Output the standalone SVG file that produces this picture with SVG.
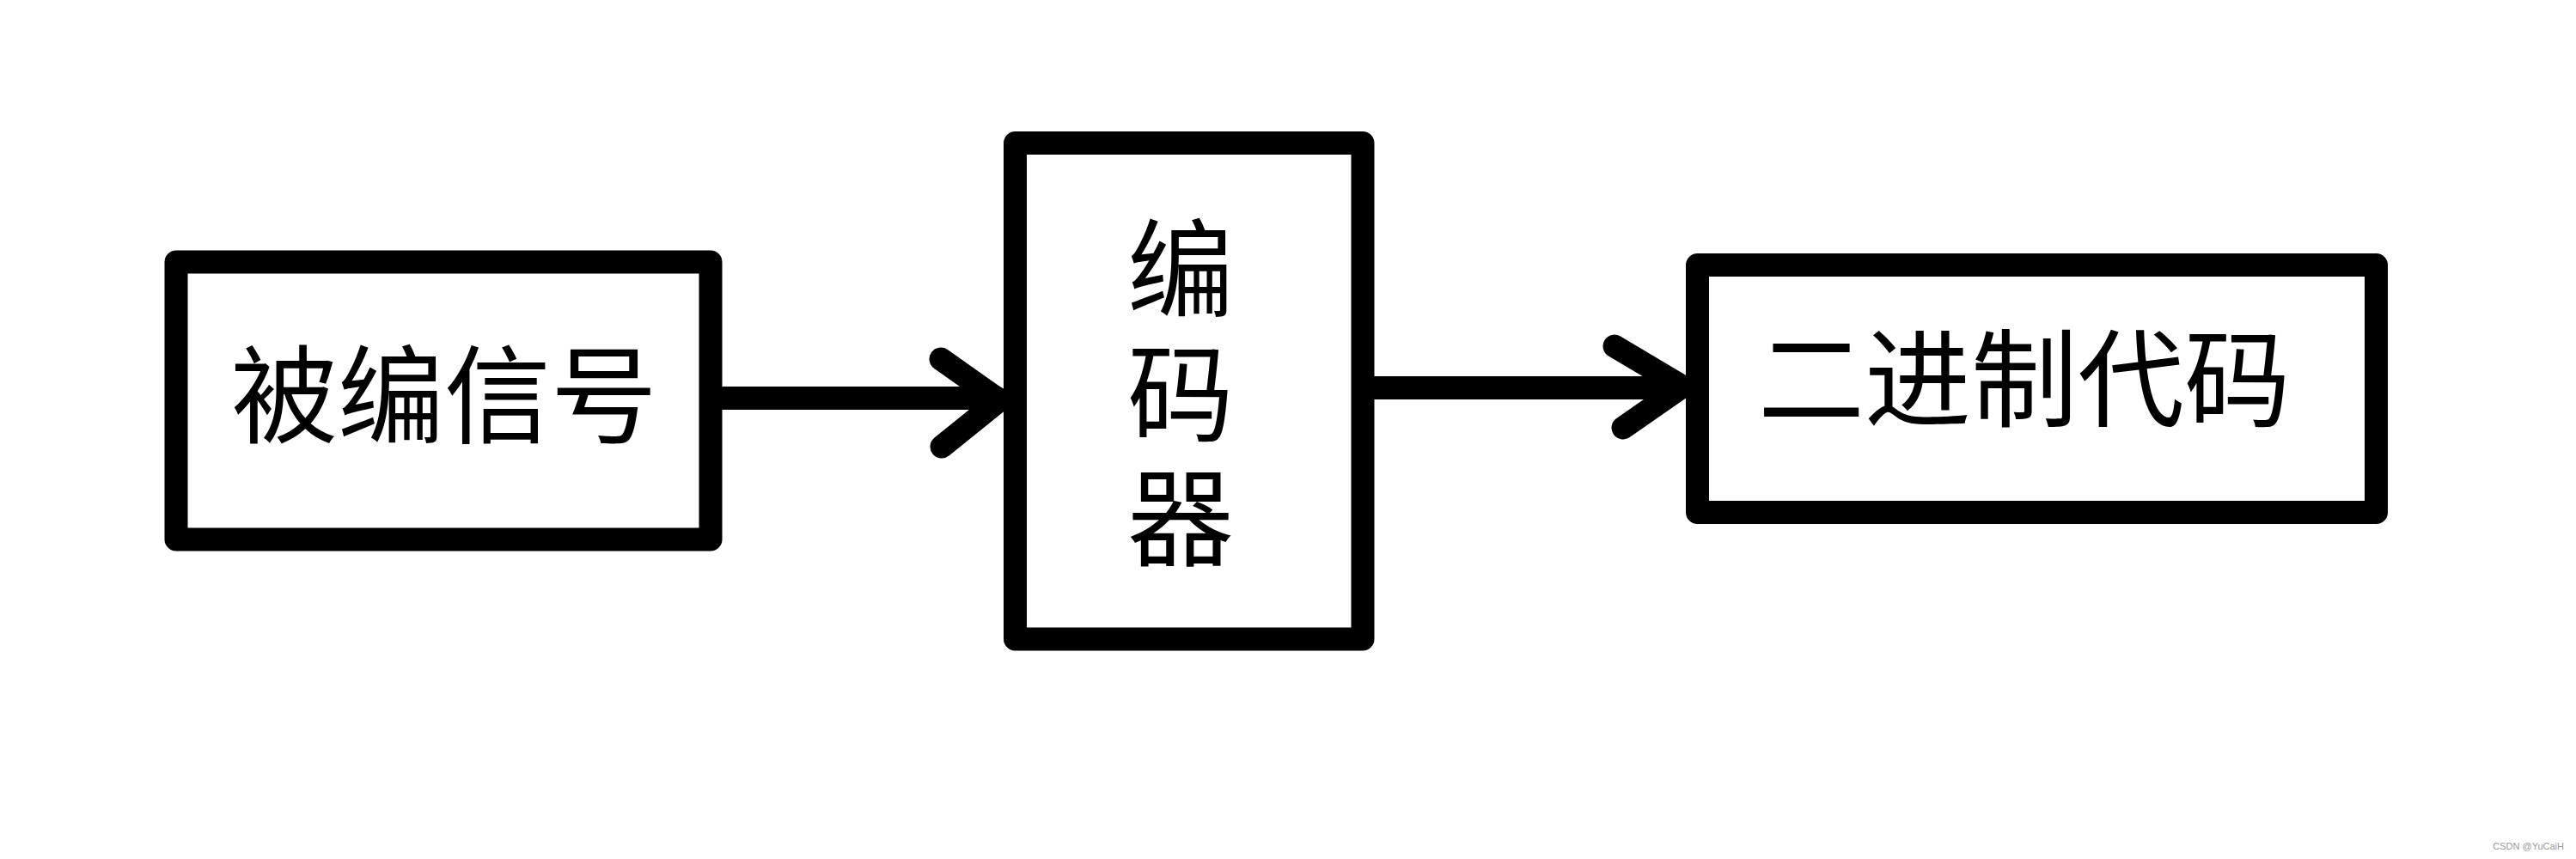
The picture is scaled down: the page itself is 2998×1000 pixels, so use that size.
<svg xmlns="http://www.w3.org/2000/svg" width="2998" height="1000" viewBox="0 0 2998 1000">
<style>
.box{fill:#ffffff;stroke:#000000;stroke-width:27;stroke-linejoin:round}
.lbl{font-family:"Noto Sans CJK SC","Noto Sans",sans-serif;font-size:124px;fill:#000000;text-anchor:middle}
.conn{fill:none;stroke:#000000;stroke-width:27;stroke-linecap:round;stroke-linejoin:round}
.wm{font-family:"Liberation Sans",Arial,sans-serif;font-size:11px;fill:#9a9a9a;text-anchor:end}
</style>
<rect width="2998" height="1000" fill="#ffffff"/>
<g id="node-input">
<rect class="box" x="205" y="305" width="622" height="323"/>
<text class="lbl" x="517" y="506">被编信号</text>
</g>
<g id="node-encoder">
<rect class="box" x="1181.5" y="166.5" width="404.5" height="577.5"/>
<text class="lbl" x="1374" y="359">编</text>
<text class="lbl" x="1374" y="504">码</text>
<text class="lbl" x="1374" y="649">器</text>
</g>
<g id="node-output">
<rect class="box" x="1975.5" y="308.5" width="790" height="288"/>
<text class="lbl" x="2356" y="487">二进制代码</text>
</g>
<g id="connectors">
<path class="conn" d="M840 463.5 H1160"/>
<polyline class="conn" points="1095,418 1163,466 1096,520"/>
<path class="conn" d="M1600 451.5 H1955"/>
<polyline class="conn" points="1879,403 1958,450 1889,498"/>
</g>
<text class="wm" x="2984" y="989">CSDN @YuCaiH</text>
</svg>
